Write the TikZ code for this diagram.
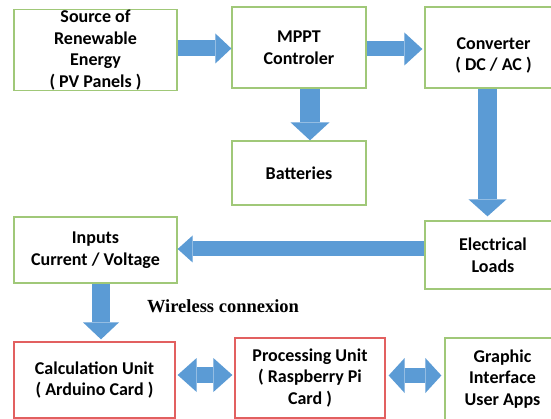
\documentclass[tikz,border=0pt]{standalone}
\usepackage{fontspec}
\setmainfont{Carlito}
\newfontfamily\serifbold{Liberation Serif}
\usetikzlibrary{arrows.meta,calc}
\definecolor{boxgreen}{RGB}{160,200,120}
\definecolor{boxred}{RGB}{226,96,96}
\definecolor{arrowblue}{RGB}{91,155,213}
\tikzset{
  box/.style n args={3}{draw=#3, line width=1.3pt, fill=white, inner sep=0pt,
    minimum width=#1pt, minimum height=#2pt, align=center,
    font=\fontsize{18}{21.7}\selectfont\bfseries},
  txt/.style={inner sep=0pt, align=center, font=\fontsize{18}{21.7}\selectfont\bfseries},
  barrow/.style n args={3}{draw=arrowblue, line width=#1pt,
    -{Triangle[width=#2pt, length=#3pt, line width=0pt]}},
  dbarrow/.style n args={3}{draw=arrowblue, line width=#1pt,
    {Triangle[width=#2pt, length=#3pt, line width=0pt]}-{Triangle[width=#2pt, length=#3pt, line width=0pt]}},
}
\begin{document}
\begin{tikzpicture}[x=1pt,y=-1pt]
\fill[white] (0,0) rectangle (551,419);
\useasboundingbox (0,0) rectangle (551,419);
% boxes
\node[box={163}{80}{boxgreen}] (src) at (95.5,50) {Source of\\Renewable\\Energy\\( PV Panels )};
\node[box={134}{81}{boxgreen}] (mppt) at (299,47.5) {MPPT\\Controler};
\node[box={137}{81}{boxgreen}] (conv) at (493.5,47.5) {};
\node[txt] (convtext) at ($(conv.center)+(0,8)$) {Converter\\( DC / AC )};
\node[box={134}{64}{boxgreen}] (batt) at (299,173) {Batteries};
\node[box={163}{66}{boxgreen}] (inputs) at (95.5,250) {Inputs\\Current / Voltage};
\node[box={136}{68}{boxgreen}] (loads) at (493,255) {Electrical\\Loads};
\node[box={161}{76}{boxred}] (calc) at (94.5,380) {Calculation Unit\\( Arduino Card )};
\node[box={150}{80}{boxred}] (proc) at (310,378) {Processing Unit\\( Raspberry Pi\\Card )};
\node[box={115}{82}{boxgreen}] (gui) at (502.5,379) {Graphic\\Interface\\User Apps};
\node[inner sep=0pt, font=\serifbold\fontsize{18.5}{22}\selectfont\bfseries] (wireless) at (223,306) {Wireless connexion};
% arrows
\draw[barrow={16}{30}{16}] (src.east |- 0,48.5) -- (mppt.west |- 0,48.5);
\draw[barrow={15}{33}{18}] (mppt.east |- 0,49) -- ($(conv.west |- 0,49)+(-2,0)$);
\draw[barrow={20}{39}{18}] (mppt.south -| 310,0) -- (batt.north -| 310,0);
\draw[barrow={19}{38}{17}] (conv.south -| 487.5,0) -- ($(loads.north -| 487.5,0)+(0,-4)$);
\draw[barrow={15}{27}{15}] (loads.west |- 0,249) -- (inputs.east |- 0,249);
\draw[barrow={18}{36}{17}] (inputs.south -| 101,0) -- ($(calc.north -| 101,0)+(0,-2)$);
\draw[dbarrow={16}{34}{19}] ($(calc.east |- 0,375)+(2,0)$) -- ($(proc.west |- 0,375)+(-2,0)$);
\draw[dbarrow={15}{35}{16}] ($(proc.east |- 0,375.5)+(3,0)$) -- ($(gui.west |- 0,375.5)+(-3,0)$);
\end{tikzpicture}
\end{document}
